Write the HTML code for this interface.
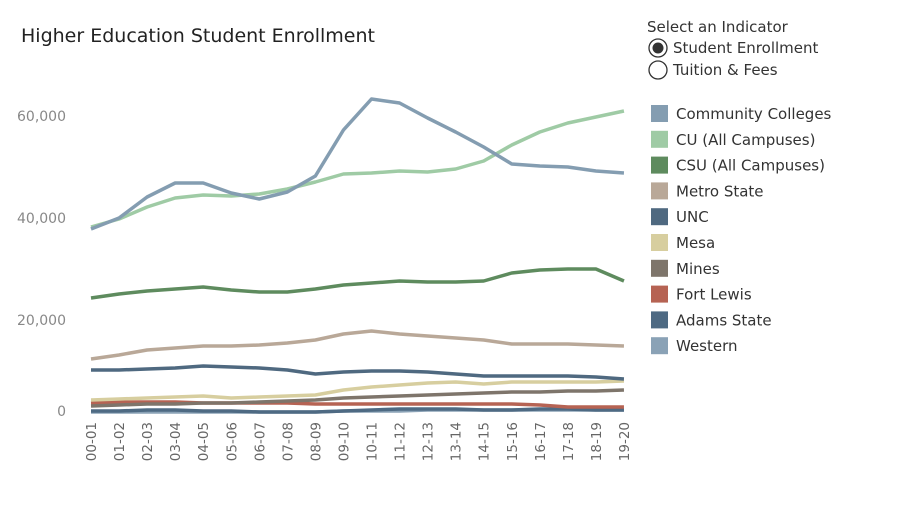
<!DOCTYPE html>
<html><head><style>
body{margin:0;background:#fff;font-family:"DejaVu Sans","Liberation Sans",sans-serif;}
</style></head><body>
<svg width="900" height="514" xmlns="http://www.w3.org/2000/svg" font-family="DejaVu Sans, Liberation Sans, sans-serif">
<rect width="900" height="514" fill="#fff"/>
<text x="21" y="42" font-size="19" fill="#222">Higher Education Student Enrollment</text>
<g font-size="14" fill="#888" text-anchor="end">
<text x="66" y="121">60,000</text><text x="66" y="223">40,000</text><text x="66" y="325">20,000</text><text x="66" y="416">0</text>
</g>
<g id="xl" font-size="13.5" fill="#666"></g>
<g id="lines" fill="none" stroke-width="3.5" stroke-linejoin="round"></g>
<text x="647" y="32" font-size="15" fill="#333">Select an Indicator</text>
<circle cx="658" cy="48" r="9" fill="none" stroke="#333" stroke-width="1.3"/><circle cx="658" cy="48" r="5.5" fill="#333"/>
<text x="673" y="53" font-size="15" fill="#333">Student Enrollment</text>
<circle cx="658" cy="70" r="9" fill="none" stroke="#333" stroke-width="1.3"/>
<text x="673" y="75" font-size="15" fill="#333">Tuition &amp; Fees</text>
<g id="leg" font-size="15" fill="#333"></g>
</svg>
<script>
var ns="http://www.w3.org/2000/svg";
var S=[
["Community Colleges","#849db1",[229,218,197,183,183,193,199,192,176,130,99,103,118,132,147,164,166,167,171,173]],
["CU (All Campuses)","#9fcba5",[227,219,207,198,195,196,194,189,182,174,173,171,172,169,161,145,132,123,117,111]],
["CSU (All Campuses)","#5e8b5e",[298,294,291,289,287,290,292,292,289,285,283,281,282,282,281,273,270,269,269,281]],
["Metro State","#b9a898",[359,355,350,348,346,346,345,343,340,334,331,334,336,338,340,344,344,344,345,346]],
["UNC","#4f6980",[370,370,369,368,366,367,368,370,374,372,371,371,372,374,376,376,376,376,377,379]],
["Mesa","#d7ce9f",[400,399,398,397,396,398,397,396,395,390,387,385,383,382,384,382,382,382,382,381]],
["Mines","#7e756b",[406,405,404,404,403,403,402,401,400,398,397,396,395,394,393,392,392,391,391,390]],
["Fort Lewis","#b66353",[403,402,402,402,403,403,403,403,404,404,404,404,404,404,404,404,405,407,407,407]],
["Adams State","#4e6a83",[411,411,410,410,411,411,412,412,412,411,410,409,409,409,410,410,409,409,410,410]],
["Western","#8aa2b6",[412,412,412,412,412,412,412,412,412,411,411,411,410,410,410,410,410,410,410,410]]];
var L=document.getElementById("lines"),G=document.getElementById("leg"),X=document.getElementById("xl");
for(var i=S.length-1;i>=0;i--){var p=document.createElementNS(ns,"polyline");
p.setAttribute("points",S[i][2].map(function(y,j){return (91+j*28.05)+","+y}).join(" "));
p.setAttribute("stroke",S[i][1]);L.appendChild(p);}
S.forEach(function(s,i){var y=105+i*25.8;var r=document.createElementNS(ns,"rect");
r.setAttribute("x",651);r.setAttribute("y",y);r.setAttribute("width",17);r.setAttribute("height",17);r.setAttribute("fill",s[1]);G.appendChild(r);
var t=document.createElementNS(ns,"text");t.setAttribute("x",676);t.setAttribute("y",y+14);t.textContent=s[0];G.appendChild(t);});
for(var j=0;j<20;j++){var a=("0"+j).slice(-2)+"-"+("0"+(j+1)).slice(-2);var x=91+j*28.05+5;
var t=document.createElementNS(ns,"text");t.setAttribute("transform","translate("+x+",422) rotate(-90)");t.setAttribute("text-anchor","end");t.textContent=a;X.appendChild(t);}
</script>
</body></html>
